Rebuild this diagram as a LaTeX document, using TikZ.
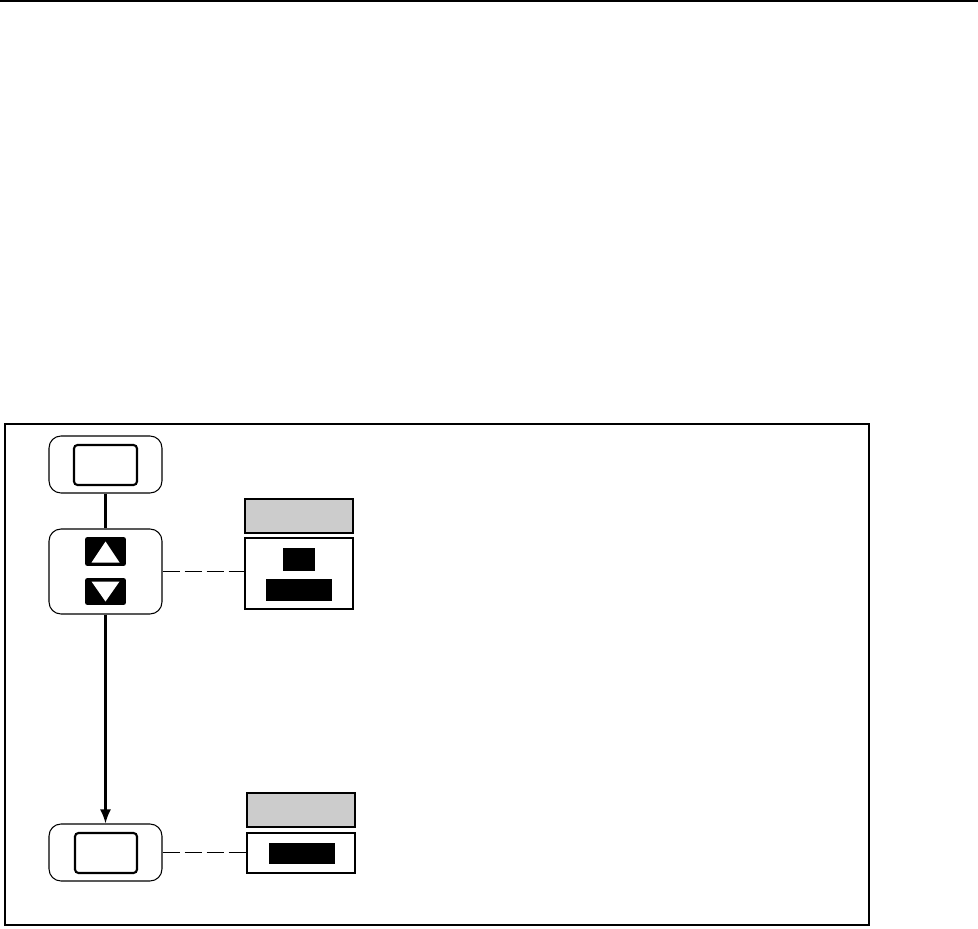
\documentclass[tikz,border=0pt]{standalone}
\usetikzlibrary{positioning,arrows.meta,calc}

\begin{document}
\begin{tikzpicture}[
  x=0.02cm, y=-0.02cm,
  key/.style={draw, line width=0.6pt, rounded corners=0.24cm, minimum width=2.26cm,
              minimum height=1.14cm, inner sep=0pt},
  face/.style={draw, line width=1.2pt, rounded corners=0.07cm, minimum width=1.26cm,
               minimum height=0.8cm, inner sep=0pt},
  btn/.style={fill=black, rounded corners=0.05cm, minimum width=0.82cm,
              minimum height=0.56cm, inner sep=0pt},
  hdr/.style={draw, line width=0.7pt, fill=black!20, minimum width=2.16cm,
              minimum height=0.68cm, inner sep=0pt},
  disp/.style={draw, line width=0.7pt, fill=white, minimum width=2.16cm, inner sep=0pt},
  seg/.style={fill=black, inner sep=0pt},
  arr/.style={-{Latex[length=0.28cm,width=0.22cm]}, line width=1.2pt},
  lnk/.style={line width=0.9pt, dash pattern=on 0.34cm off 0.1cm}
]
\useasboundingbox (0,0) rectangle (978,929);

% page rule and frame
\draw[line width=1.2pt] (0,1) -- (978,1);
\draw[line width=1.1pt] (5,424) rectangle (869,925);

% keys
\node[key] (key1) at (105.5,464.5) {};
\node[face] (face1) at (105.5,465) {};

\node[key, minimum height=1.7cm] (key2) at (105.5,571.5) {};
\node[btn, minimum height=0.58cm] (up) at (105.5,551.5) {};
\node[btn, minimum height=0.54cm] (down) at (105.5,591.5) {};
\fill[white] ($(up.center)+(-14,11)$) -- ($(up.center)+(14,11)$) -- ($(up.center)+(0,-10)$) -- cycle;
\fill[white] ($(down.center)+(-14,-10)$) -- ($(down.center)+(14,-10)$) -- ($(down.center)+(0,10)$) -- cycle;

\node[key] (key3) at (105.5,852.5) {};
\node[face, minimum width=1.24cm] (face3) at (106,853) {};

% displays
\node[hdr] (hdr1) at (299,516) {};
\node[disp, minimum height=1.42cm] (disp1) at (299,573.5) {};
\node[seg, minimum width=0.64cm, minimum height=0.46cm] (seg1a) at (299,559.5) {};
\node[seg, minimum width=1.32cm, minimum height=0.44cm] (seg1b) at (299,590) {};

\node[hdr] (hdr2) at (301,810) {};
\node[disp, minimum height=0.8cm] (disp2) at (301,853) {};
\node[seg, minimum width=1.32cm, minimum height=0.42cm] (seg2) at (302,853.5) {};

% connectors
\draw[line width=1.2pt] (key1.south) -- (key2.north);
\draw[arr] (key2.south) -- (key3.north);
\draw[lnk] (key2.east) -- (key2.east -| disp1.west);
\draw[lnk] (key3.east) -- (key3.east -| disp2.west);
\end{tikzpicture}
\end{document}
